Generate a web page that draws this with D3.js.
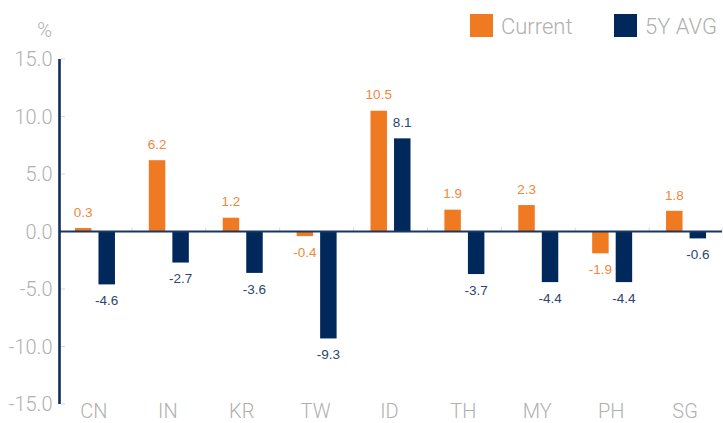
<!DOCTYPE html>
<html>
<head>
<meta charset="utf-8">
<script src="https://cdn.jsdelivr.net/npm/d3@7/dist/d3.min.js"></script>
<style>
  html, body { margin: 0; padding: 0; background: #fff; }
  svg { display: block; }
  .gray { font-family: Roboto, "Liberation Sans", Arial, sans-serif; font-weight: 300; fill: #b0b0b0; }
  .val { font-family: "Liberation Sans", Arial, sans-serif; font-size: 13.5px; }
</style>
</head>
<body>
<svg id="chart" width="723" height="423"></svg>
<script>
const categories = ["CN", "IN", "KR", "TW", "ID", "TH", "MY", "PH", "SG"];
const seriesNames = ["Current", "5Y AVG"];
const current = [0.3, 6.2, 1.2, -0.4, 10.5, 1.9, 2.3, -1.9, 1.8];
const avg5y = [-4.6, -2.7, -3.6, -9.3, 8.1, -3.7, -4.4, -4.4, -0.6];
const yTicks = [15, 10, 5, 0, -5, -10, -15];
const barColors = ["#f07a22", "#00285a"];
const labelColors = ["#f0883a", "#2b4672"];

const seriesValues = [current, avg5y];
const data = categories.map((c, i) => ({
  cat: c,
  vals: seriesNames.map((s, k) => ({ key: s, k: k, v: seriesValues[k][i] }))
}));

const svg = d3.select("#chart");
const left = 59, right = 723;
const y = d3.scaleLinear().domain([-15, 15]).range([404, 59]);
const x0 = d3.scaleBand().domain(categories).range([left - 1, right]).paddingInner(0);
const x1 = d3.scaleBand().domain(seriesNames).range([0, 40]).paddingInner(0.3);

// y tick marks
svg.append("g").selectAll("line").data(yTicks).join("line")
  .attr("x1", left + 2).attr("x2", left + 6)
  .attr("y1", d => y(d)).attr("y2", d => y(d))
  .attr("stroke", "#d6d6d6").attr("stroke-width", 1);

// y tick labels
svg.append("g").selectAll("text").data(yTicks).join("text")
  .attr("class", "gray")
  .attr("x", 52.5).attr("y", d => y(d) + 7)
  .attr("text-anchor", "end")
  .style("font-size", "20px")
  .text(d => d3.format(".1f")(d).replace("−", "-"));

// % label
svg.append("text").attr("class", "gray")
  .attr("x", 52).attr("y", 37).attr("text-anchor", "end")
  .style("font-size", "20px").text("%");

// band boundary ticks on zero line
svg.append("g").selectAll("line").data(categories.slice(1).concat(["__end"])).join("line")
  .attr("x1", d => d === "__end" ? right - 1 : x0(d))
  .attr("x2", d => d === "__end" ? right - 1 : x0(d))
  .attr("y1", y(0) - 4).attr("y2", y(0))
  .attr("stroke", "#d8d8d8").attr("stroke-width", 1);

// bars
const groups = svg.append("g").selectAll("g").data(data).join("g")
  .attr("transform", d => `translate(${x0(d.cat) + x0.bandwidth() / 2 - 20},0)`);

groups.selectAll("rect").data(d => d.vals).join("rect")
  .attr("x", d => x1(d.key))
  .attr("width", x1.bandwidth())
  .attr("y", d => Math.min(y(d.v), y(0)))
  .attr("height", d => Math.abs(y(d.v) - y(0)))
  .attr("fill", d => barColors[d.k]);

groups.selectAll("text").data(d => d.vals).join("text")
  .attr("class", "val")
  .attr("x", d => x1(d.key) + x1.bandwidth() / 2)
  .attr("y", d => d.v >= 0 ? y(d.v) - 16 : y(d.v) + 16)
  .attr("dy", "0.35em")
  .attr("text-anchor", "middle")
  .attr("fill", d => labelColors[d.k])
  .text(d => d3.format(".1f")(d.v).replace("−", "-"));

// zero line
svg.append("line")
  .attr("x1", left).attr("x2", right - 1)
  .attr("y1", y(0)).attr("y2", y(0))
  .attr("stroke", "#1b365f").attr("stroke-width", 2);

// y axis line
svg.append("line")
  .attr("x1", left + 0.5).attr("x2", left + 0.5)
  .attr("y1", y(15)).attr("y2", y(-15))
  .attr("stroke", "#0e2e5c").attr("stroke-width", 2.6);

// category labels
svg.append("g").selectAll("text").data(categories).join("text")
  .attr("class", "gray")
  .attr("x", d => x0(d) + x0.bandwidth() / 2 - 1)
  .attr("y", 418)
  .attr("text-anchor", "middle")
  .style("font-size", "20px")
  .text(d => d);

// legend
const legX = [470, 614];
const leg = svg.append("g").selectAll("g").data(seriesNames).join("g")
  .attr("transform", (d, i) => `translate(${legX[i]},14)`);
leg.append("rect").attr("width", 23).attr("height", 23)
  .attr("fill", (d, i) => barColors[i]);
leg.append("text").attr("class", "gray")
  .attr("x", 31).attr("y", 20)
  .style("font-size", "22px")
  .text(d => d);
</script>
</body>
</html>
